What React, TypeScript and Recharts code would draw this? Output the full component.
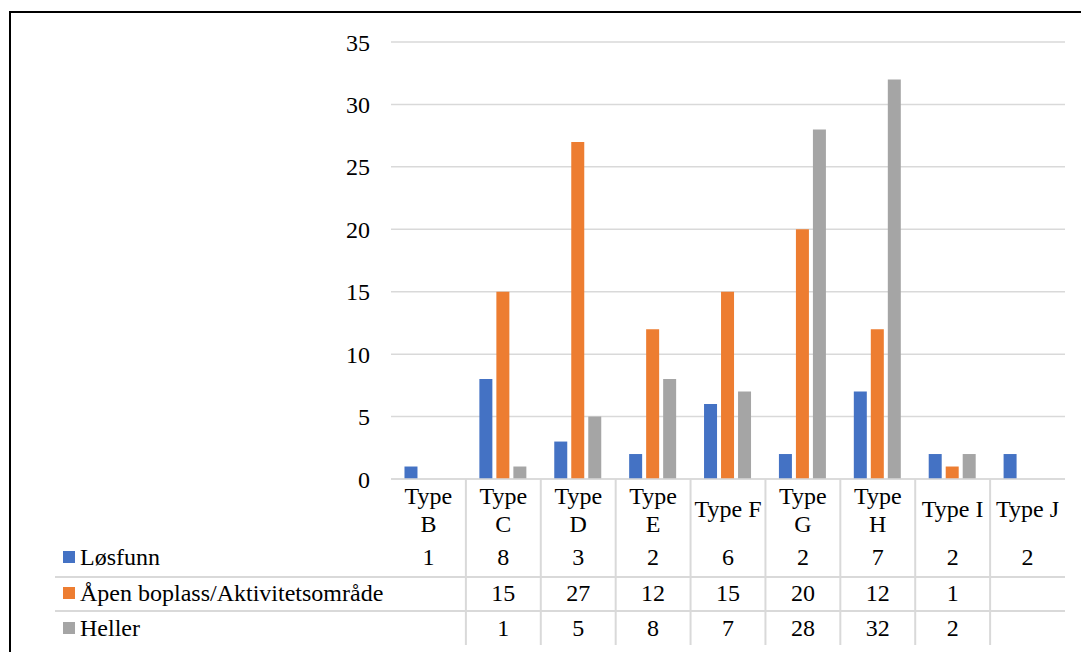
import React from 'react';
import { BarChart, Bar, XAxis, YAxis, CartesianGrid } from 'recharts';

const categories = ['Type B', 'Type C', 'Type D', 'Type E', 'Type F', 'Type G', 'Type H', 'Type I', 'Type J'];
// how each category label wraps in the table header
const categoryLines = [['Type', 'B'], ['Type', 'C'], ['Type', 'D'], ['Type', 'E'], ['Type F'], ['Type', 'G'], ['Type', 'H'], ['Type I'], ['Type J']];
const seriesNames = ['Løsfunn', 'Åpen boplass/Aktivitetsområde', 'Heller'];
const losfunn = [1, 8, 3, 2, 6, 2, 7, 2, 2];
const apenBoplass = [null, 15, 27, 12, 15, 20, 12, 1, null];
const heller = [null, 1, 5, 8, 7, 28, 32, 2, null];
const yTicks = [0, 5, 10, 15, 20, 25, 30, 35];

const COLORS = ['#4472C4', '#ED7D31', '#A5A5A5'];
const FONT = '"Liberation Serif", "Times New Roman", serif';
const FONT_SIZE = 24;
const GRID = '#D9D9D9';

const W = 1081;
const H = 652;
const MARGIN = { top: 42, right: 16, left: 331, bottom: 0 };
const Y_WIDTH = 60;
const X_HEIGHT = 173;
const COL_W = (W - MARGIN.left - Y_WIDTH - MARGIN.right) / categories.length;
const ROW_BASELINES = [86, 122, 157];

const seriesValues = [losfunn, apenBoplass, heller];

const TableTick = (props: any) => {
  const { x, y, payload } = props;
  const i = props.index ?? payload.index;
  const lines = categoryLines[i];
  const half = COL_W / 2;
  return (
    <g fontFamily={FONT} fontSize={FONT_SIZE} fill="#000">
      {lines.length === 2 ? (
        <>
          <text x={x} y={y + 25} textAnchor="middle">{lines[0]}</text>
          <text x={x} y={y + 53} textAnchor="middle">{lines[1]}</text>
        </>
      ) : (
        <text x={x} y={y + 38} textAnchor="middle">{lines[0]}</text>
      )}
      {seriesValues.map((vals, s) =>
        vals[i] == null ? null : (
          <text key={s} x={x} y={y + ROW_BASELINES[s]} textAnchor="middle">{vals[i]}</text>
        )
      )}
      {i < categories.length - 1 && (
        <line x1={x + half} x2={x + half} y1={y} y2={y + 166} stroke={GRID} strokeWidth={2} />
      )}
    </g>
  );
};

export default function App() {
  const data = categories.map((name, i) => ({
    name,
    losfunn: losfunn[i],
    apen: apenBoplass[i],
    heller: heller[i],
  }));
  const plotBottom = H - X_HEIGHT;
  const plotRight = W - MARGIN.right;

  return (
    <div style={{ position: 'absolute', left: 0, top: 0, width: W, height: H, overflow: 'hidden', background: '#fff' }}>
      <div style={{ position: 'absolute', left: 9, top: 11, width: 1200, height: 800, border: '2px solid #000' }} />
      <BarChart width={W} height={H} data={data} margin={MARGIN} barCategoryGap="18%" barGap={4}>
        <CartesianGrid vertical={false} stroke={GRID} strokeWidth={1.5} />
        <XAxis
          dataKey="name"
          height={X_HEIGHT}
          interval={0}
          tickSize={0}
          tickMargin={0}
          tickLine={false}
          axisLine={{ stroke: GRID, strokeWidth: 1.5 }}
          tick={(p: any) => <TableTick {...p} />}
        />
        <YAxis
          width={Y_WIDTH}
          domain={[0, 35]}
          ticks={yTicks}
          interval={0}
          axisLine={false}
          tickLine={false}
          tickSize={0}
          tickMargin={21}
          tick={{ fill: '#000', fontSize: FONT_SIZE, fontFamily: FONT }}
        />
        <Bar dataKey="losfunn" name={seriesNames[0]} fill={COLORS[0]} isAnimationActive={false} />
        <Bar dataKey="apen" name={seriesNames[1]} fill={COLORS[1]} isAnimationActive={false} />
        <Bar dataKey="heller" name={seriesNames[2]} fill={COLORS[2]} isAnimationActive={false} />
      </BarChart>
      <svg width={W} height={H} style={{ position: 'absolute', left: 0, top: 0, pointerEvents: 'none' }}>
        {[plotBottom + 98, plotBottom + 132].map((yy) => (
          <line key={yy} x1={55} x2={plotRight} y1={yy} y2={yy} stroke={GRID} strokeWidth={2} />
        ))}
        {seriesNames.map((name, s) => (
          <g key={name}>
            <rect x={63} y={plotBottom + ROW_BASELINES[s] - 14} width={12} height={12} fill={COLORS[s]} />
            <text x={80} y={plotBottom + ROW_BASELINES[s]} fontFamily={FONT} fontSize={FONT_SIZE} fill="#000">{name}</text>
          </g>
        ))}
      </svg>
    </div>
  );
}
